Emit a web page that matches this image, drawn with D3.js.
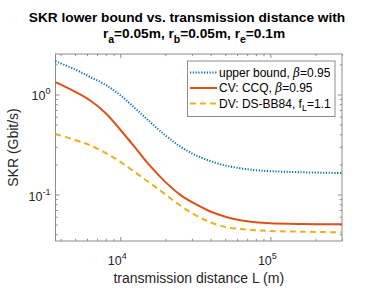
<!DOCTYPE html>
<html>
<head>
<meta charset="utf-8">
<script src="https://cdn.jsdelivr.net/npm/d3@7"></script>
<style>
  body { margin: 0; background: #fff; }
  svg { display: block; font-family: "Liberation Sans", Arial, Helvetica, sans-serif; }
</style>
</head>
<body>
<script>
// transmission distance L (m)
var distance = [3700, 5000, 6300, 8000, 10000, 12600, 15800, 20000, 25100,
                31600, 39800, 50100, 63100, 79400, 100000, 158000, 300000];
// SKR (Gbit/s)
var upperBound = [2.148, 1.778, 1.496, 1.245, 0.984, 0.724, 0.531, 0.389, 0.302,
                  0.248, 0.216, 0.195, 0.183, 0.175, 0.171, 0.167, 0.164];
var cvCCQ = [1.327, 1.064, 0.871, 0.650, 0.444, 0.293, 0.193, 0.133, 0.0993,
             0.0804, 0.0676, 0.060, 0.0553, 0.0528, 0.0515, 0.0507, 0.0504];
var dvBB84 = [0.403, 0.351, 0.310, 0.260, 0.212, 0.166, 0.130, 0.100, 0.0776,
              0.0624, 0.0527, 0.0475, 0.0452, 0.0439, 0.0432, 0.0425, 0.0419];

var xTicks = [1e4, 1e5];
var xTickExp = ["4", "5"];
var yTicks = [0.1, 1];
var yTickExp = ["-1", "0"];
var legendLabels = ["upper bound, ", "CV: CCQ, ", "DV: DS-BB84, f"];

var w = 374, h = 290;
// plot box (window.top is read-only, so avoid that name)
var pLeft = 55.5, pRight = 342, pTop = 54, pBottom = 241;
var axisColor = "#8c8c8c";
var textColor = "#262626";

var svg = d3.select("body").append("svg")
    .attr("width", w)
    .attr("height", h);

var x = d3.scaleLog().domain([3700, 3e5]).range([pLeft, pRight]);
var y = d3.scaleLog().domain([0.0343, 2.54]).range([pBottom, pTop]);

// minor ticks
var xMinor = [];
[1e3, 1e4, 1e5].forEach(function(d) {
    for (var k = 2; k <= 9; k++) {
        var v = d * k;
        if (v >= 3700 && v <= 3e5) xMinor.push(v);
    }
});
var yMinor = [];
[0.01, 0.1, 1].forEach(function(d) {
    for (var k = 2; k <= 9; k++) {
        var v = d * k;
        if (v >= 0.0343 && v <= 2.54) yMinor.push(v);
    }
});

function drawAxis(axisFn, scale, vals, size, tx, ty) {
    var g = svg.append("g")
        .attr("transform", "translate(" + tx + "," + ty + ")")
        .call(axisFn(scale).tickValues(vals).tickSize(size).tickFormat(""));
    g.select(".domain").remove();
    g.selectAll("line").attr("stroke", axisColor).attr("stroke-width", 1);
    return g;
}

// ticks pointing inward on all four sides
drawAxis(d3.axisBottom, x, xTicks, -4, 0, pBottom);
drawAxis(d3.axisBottom, x, xMinor, -2.2, 0, pBottom);
drawAxis(d3.axisTop, x, xTicks, -4, 0, pTop);
drawAxis(d3.axisTop, x, xMinor, -2.2, 0, pTop);
drawAxis(d3.axisLeft, y, yTicks, -4, pLeft, 0);
drawAxis(d3.axisLeft, y, yMinor, -2.2, pLeft, 0);
drawAxis(d3.axisRight, y, yTicks, -4, pRight, 0);
drawAxis(d3.axisRight, y, yMinor, -2.2, pRight, 0);

// box
svg.append("rect")
    .attr("x", pLeft).attr("y", pTop)
    .attr("width", pRight - pLeft).attr("height", pBottom - pTop)
    .attr("fill", "none")
    .attr("stroke", axisColor)
    .attr("stroke-width", 1);

// tick labels
xTicks.forEach(function(d, i) {
    var t = svg.append("text")
        .attr("x", x(d) - 3)
        .attr("y", 265)
        .attr("text-anchor", "middle")
        .attr("font-size", "12.5px")
        .attr("fill", textColor);
    t.append("tspan").text("10");
    t.append("tspan").attr("dy", -6).attr("font-size", "9px").text(xTickExp[i]);
});
yTicks.forEach(function(d, i) {
    var t = svg.append("text")
        .attr("x", pLeft - 5)
        .attr("y", y(d) + 6)
        .attr("text-anchor", "end")
        .attr("font-size", "12.5px")
        .attr("fill", textColor);
    t.append("tspan").text("10");
    t.append("tspan").attr("dy", -6).attr("font-size", "9px").text(yTickExp[i]);
});

// axis labels
svg.append("text")
    .attr("x", (pLeft + pRight) / 2)
    .attr("y", 283)
    .attr("text-anchor", "middle")
    .attr("font-size", "14px")
    .attr("fill", textColor)
    .text("transmission distance L (m)");

svg.append("text")
    .attr("transform", "translate(18," + ((pTop + pBottom) / 2) + ") rotate(-90)")
    .attr("text-anchor", "middle")
    .attr("font-size", "14px")
    .attr("fill", textColor)
    .text("SKR (Gbit/s)");

// title
svg.append("text")
    .attr("x", 187)
    .attr("y", 22)
    .attr("text-anchor", "middle")
    .attr("font-size", "13.7px")
    .attr("font-weight", "bold")
    .attr("fill", "#000")
    .text("SKR lower bound vs. transmission distance with");

var t2 = svg.append("text")
    .attr("x", 194)
    .attr("y", 38)
    .attr("text-anchor", "middle")
    .attr("font-size", "13.7px")
    .attr("font-weight", "bold")
    .attr("fill", "#000");
var parts = [["r", "a", "=0.05m, "], ["r", "b", "=0.05m, "], ["r", "e", "=0.1m"]];
parts.forEach(function(p) {
    t2.append("tspan").text(p[0]);
    t2.append("tspan").attr("dy", 5).attr("font-size", "10.5px").text(p[1]);
    t2.append("tspan").attr("dy", -5).text(p[2]);
});

// lines
var series = [
    { values: upperBound, color: "#0072BD", dash: "1.2,1.6" },
    { values: cvCCQ, color: "#D95319", dash: null },
    { values: dvBB84, color: "#EDB120", dash: "6,4" }
];

var line = d3.line()
    .x(function(d) { return x(d[0]); })
    .y(function(d) { return y(d[1]); })
    .curve(d3.curveCatmullRom.alpha(0.5));

series.forEach(function(s) {
    svg.append("path")
        .datum(distance.map(function(L, i) { return [L, s.values[i]]; }))
        .attr("fill", "none")
        .attr("stroke", s.color)
        .attr("stroke-width", 2)
        .attr("stroke-dasharray", s.dash)
        .attr("d", line);
});

// legend
var lg = svg.append("g");
lg.append("rect")
    .attr("x", 187.5).attr("y", 61)
    .attr("width", 147.5).attr("height", 55.5)
    .attr("fill", "#fff")
    .attr("stroke", axisColor)
    .attr("stroke-width", 1);

series.forEach(function(s, i) {
    var ly = 72.5 + i * 15.5;
    lg.append("line")
        .attr("x1", 190).attr("x2", 217)
        .attr("y1", ly).attr("y2", ly)
        .attr("stroke", s.color)
        .attr("stroke-width", 2)
        .attr("stroke-dasharray", s.dash);
    var t = lg.append("text")
        .attr("x", 219)
        .attr("y", ly + 4.2)
        .attr("font-size", "12px")
        .attr("fill", "#000");
    t.append("tspan").text(legendLabels[i]);
    if (i < 2) {
        t.append("tspan").attr("font-family", "DejaVu Serif, serif").attr("font-style", "italic").text("\u03B2");
        t.append("tspan").text("=0.95");
    } else {
        t.append("tspan").attr("dy", 3).attr("font-size", "9px").text("L");
        t.append("tspan").attr("dy", -3).text("=1.1");
    }
});
</script>
</body>
</html>
